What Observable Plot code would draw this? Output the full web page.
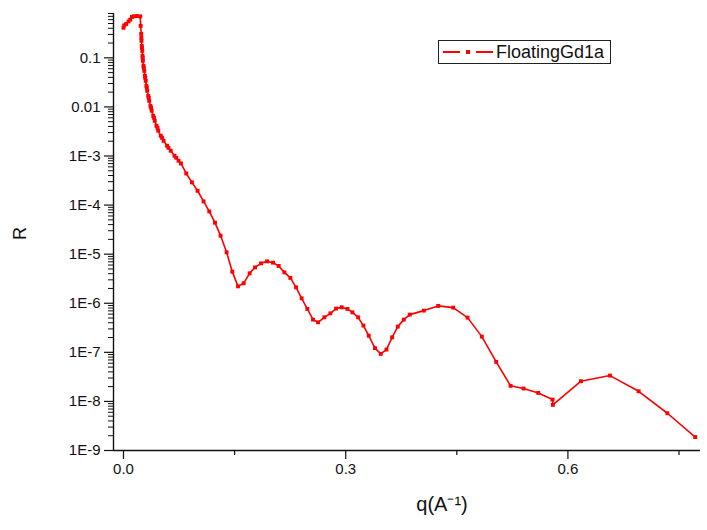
<!DOCTYPE html>
<html>
<head>
<meta charset="utf-8">
<script src="https://cdn.jsdelivr.net/npm/d3@7"></script>
<script src="https://cdn.jsdelivr.net/npm/@observablehq/plot@0.6"></script>
<style>
  html, body { margin: 0; padding: 0; background: #fff; }
  #wrap { position: relative; width: 707px; height: 530px; font-family: "Liberation Sans", Arial, sans-serif; }
  #legend { position: absolute; left: 438px; top: 40px; width: 171px; height: 22px; border: 1.5px solid #222; background: #fff; display: flex; align-items: center; }
  #legend span { font-size: 18px; color: #111; margin-left: 3px; }
</style>
</head>
<body>
<div id="wrap">
  <div id="chart"></div>
  <div id="legend"><svg width="54" height="22"><line x1="4" y1="11" x2="21" y2="11" stroke="#ff0000" stroke-width="2"/><rect x="27" y="9" width="4" height="4" fill="#ff0000"/><line x1="37" y1="11" x2="54" y2="11" stroke="#ff0000" stroke-width="2"/></svg><span>FloatingGd1a</span></div>
</div>
<script>
// Series: FloatingGd1a (q in 1/Å, reflectivity R)
const seriesName = "FloatingGd1a";
const qValues = [
  0.0000, 0.0010, 0.0037, 0.0068, 0.0091, 0.0114, 0.0136, 0.0181, 0.0226,
  0.0232, 0.0239, 0.0241, 0.0243, 0.0247, 0.0249, 0.0253, 0.0257, 0.0259, 0.0262,
  0.0270, 0.0274, 0.0280, 0.0289, 0.0293, 0.0300, 0.0309, 0.0315, 0.0320, 0.0334,
  0.0341, 0.0347, 0.0364, 0.0372, 0.0381, 0.0401, 0.0412, 0.0422, 0.0445, 0.0459,
  0.0469, 0.0503, 0.0520, 0.0541, 0.0588, 0.0607, 0.0638, 0.0689, 0.0712, 0.0743,
  0.0776, 0.0847, 0.0924, 0.1000, 0.1081, 0.1158, 0.1235, 0.1311, 0.1392, 0.1469,
  0.1546, 0.1622, 0.1703, 0.1776, 0.1857, 0.1938, 0.2019, 0.2095, 0.2172, 0.2253,
  0.2330, 0.2405, 0.2482, 0.2559, 0.2627, 0.2712, 0.2793, 0.2870, 0.2946, 0.3023,
  0.3091, 0.3168, 0.3239, 0.3311, 0.3395, 0.3473, 0.3550, 0.3627, 0.3703, 0.3784,
  0.3865, 0.4054, 0.4249, 0.4451, 0.4645, 0.4838, 0.5032, 0.5226, 0.5401, 0.5600,
  0.5793, 0.5797, 0.6176, 0.6568, 0.6955, 0.7343, 0.7719
];
const rValues = [
  0.41, 0.46, 0.49, 0.55, 0.60, 0.68, 0.70, 0.71, 0.70,
  0.448, 0.308, 0.255, 0.222, 0.175, 0.160, 0.139, 0.110, 0.100, 0.0869,
  0.0687, 0.0626, 0.0543, 0.0430, 0.0392, 0.0340, 0.0269, 0.0245, 0.0213, 0.0168,
  0.0153, 0.0133, 0.0105, 0.0096, 0.00834, 0.00659, 0.0060, 0.00522, 0.00413, 0.00376,
  0.00327, 0.00258, 0.00235, 0.00204, 0.00162, 0.00147, 0.00128, 0.00101, 0.00092, 0.00080,
  7.05e-4, 4.41e-4, 2.90e-4, 1.96e-4, 1.19e-4, 7.43e-5, 4.38e-5, 2.38e-5, 1.09e-5, 4.40e-6,
  2.21e-6, 2.55e-6, 4.07e-6, 5.38e-6, 6.50e-6, 7.13e-6, 6.71e-6, 5.75e-6, 4.26e-6, 3.28e-6,
  2.11e-6, 1.26e-6, 7.66e-7, 4.64e-7, 4.09e-7, 5.17e-7, 6.23e-7, 7.78e-7, 8.26e-7, 7.66e-7,
  6.53e-7, 5.17e-7, 3.51e-7, 2.19e-7, 1.22e-7, 9.30e-8, 1.14e-7, 2.02e-7, 3.34e-7, 4.64e-7,
  5.86e-7, 7.08e-7, 8.83e-7, 8.15e-7, 5.09e-7, 2.09e-7, 6.39e-8, 2.08e-8, 1.83e-8, 1.49e-8,
  1.09e-8, 8.51e-9, 2.58e-8, 3.36e-8, 1.61e-8, 5.74e-9, 1.88e-9
];
const yMajorTicks = [1e-9, 1e-8, 1e-7, 1e-6, 1e-5, 1e-4, 1e-3, 0.01, 0.1];
const yTickLabels = ["1E-9", "1E-8", "1E-7", "1E-6", "1E-5", "1E-4", "1E-3", "0.01", "0.1"];
const xMajorTicks = [0, 0.3, 0.6];
const xTickLabels = ["0.0", "0.3", "0.6"];
const xMinorTicks = [0.15, 0.45, 0.75];
const xTitle = "q(A\u207B\u00B9)";
const yTitle = "R";

const data = qValues.map((q, i) => ({q, r: rValues[i]}));
const yMinorTicks = [];
for (let e = -9; e <= -1; e++) for (let k = 2; k <= 9; k++) {
  const v = k * Math.pow(10, e);
  if (v <= 0.8) yMinorTicks.push(v);
}
const xDomain = [-0.0135, 0.779];
const yDomain = [1e-9, 0.8];

const chart = Plot.plot({
  width: 707,
  height: 530,
  marginLeft: 113,
  marginRight: 7,
  marginTop: 13,
  marginBottom: 80,
  x: {domain: xDomain},
  y: {type: "log", domain: yDomain},
  style: {fontFamily: "'Liberation Sans', Arial, sans-serif", fontSize: "15px", color: "#111", background: "#fff"},
  marks: [
    Plot.axisY({ticks: yMinorTicks, tickFormat: () => "", tickSize: 5, label: null, strokeWidth: 1}),
    Plot.axisY({ticks: yMajorTicks, tickFormat: (d) => yTickLabels[yMajorTicks.indexOf(d)], tickSize: 9, tickPadding: 4, label: null, fontSize: 15, strokeWidth: 1.2}),
    Plot.axisX({ticks: xMinorTicks, tickFormat: () => "", tickSize: 5, label: null, strokeWidth: 1.2}),
    Plot.axisX({ticks: xMajorTicks, tickFormat: (d) => xTickLabels[xMajorTicks.indexOf(d)], tickSize: 9, tickPadding: 4, label: null, fontSize: 15, strokeWidth: 1.2}),
    Plot.ruleX([xDomain[0]], {stroke: "#111", strokeWidth: 1.4}),
    Plot.ruleY([yDomain[0]], {stroke: "#111", strokeWidth: 1.4}),
    Plot.text([xTitle], {text: (d) => d, frameAnchor: "bottom", dx: 35, dy: 60, fontSize: 20, fill: "#111"}),
    Plot.text([yTitle], {text: (d) => d, frameAnchor: "left", dx: -93, dy: 8, rotate: -90, fontSize: 18, fill: "#111"}),
    Plot.line(data, {x: "q", y: "r", stroke: "#ff0000", strokeWidth: 1.6}),
    Plot.dot(data, {x: "q", y: "r", symbol: "square", r: 2.2, fill: "#ff0000", stroke: "none"})
  ]
});
document.getElementById("chart").appendChild(chart);
</script>
</body>
</html>
